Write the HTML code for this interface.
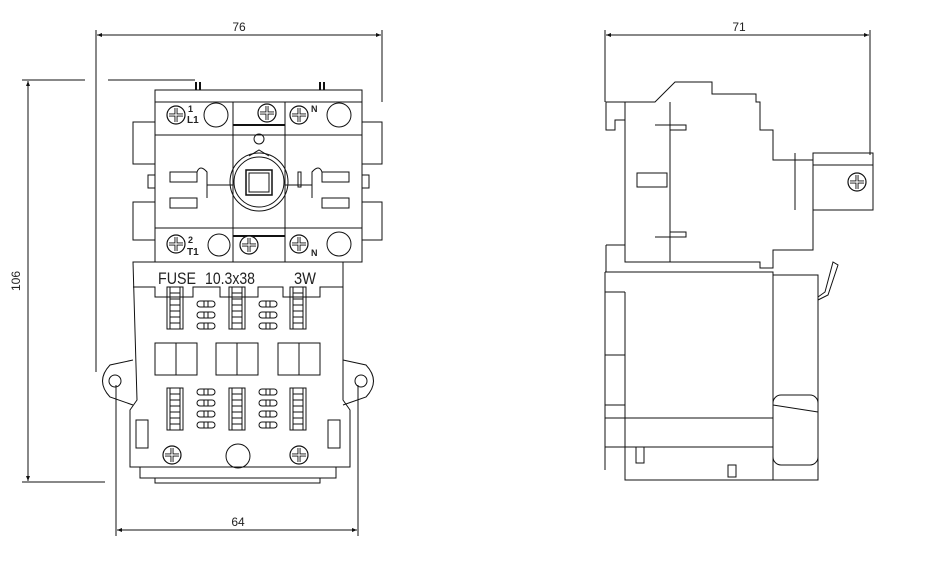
<!DOCTYPE html>
<html><head><meta charset="utf-8"><style>
html,body{margin:0;padding:0;background:#fff}
svg{display:block}
text{font-family:"Liberation Sans",sans-serif;fill:#222}
</style></head><body>
<svg width="945" height="574" viewBox="0 0 945 574" xmlns="http://www.w3.org/2000/svg">
<defs>
<marker id="a" viewBox="0 0 10 10" refX="10" refY="5" markerWidth="7" markerHeight="5" orient="auto-start-reverse"><path d="M0,1 L10,5 L0,9z" fill="#111"/></marker>
<g id="scr"><circle r="9" fill="#fff" stroke="#111" stroke-width="1.2"/><path d="M-7,0H7M0,-7V7" stroke="#111" stroke-width="3"/><path d="M-7,0H7M0,-7V7" stroke="#fff" stroke-width="1.2"/></g>
<g id="slot"><rect x="-9" y="-3" width="18" height="6" rx="3" fill="#fff" stroke="#111"/><path d="M-2,-3V3M2,-3V3" stroke="#111"/></g>
<g id="lad" stroke="#111" fill="none"><rect x="0" y="0" width="16" height="42"/><path d="M3,0V42M13,0V42M3,6H13M3,12H13M3,18H13M3,24H13M3,30H13M3,36H13"/></g>
</defs>
<g stroke="#111" fill="none" stroke-width="1">
<line x1="96" y1="30" x2="96" y2="372"/>
<line x1="382" y1="30" x2="382" y2="102"/>
<line x1="97" y1="35" x2="381" y2="35" marker-start="url(#a)" marker-end="url(#a)"/>
<line x1="22" y1="80" x2="85" y2="80"/>
<line x1="108" y1="80" x2="195" y2="80"/>
<line x1="22" y1="482" x2="105" y2="482"/>
<line x1="28" y1="81" x2="28" y2="481" marker-start="url(#a)" marker-end="url(#a)"/>
<line x1="116" y1="385" x2="116" y2="536"/>
<line x1="358" y1="385" x2="358" y2="536"/>
<line x1="117" y1="530" x2="357" y2="530" marker-start="url(#a)" marker-end="url(#a)"/>
<line x1="605" y1="30" x2="605" y2="102"/>
<line x1="870" y1="30" x2="870" y2="155"/>
<line x1="606" y1="35" x2="869" y2="35" marker-start="url(#a)" marker-end="url(#a)"/>

<rect x="155" y="90" width="207" height="172"/>
<path d="M196,90V82M200,90V82M320,90V82M324,90V82" stroke-width="2"/>
<line x1="155" y1="102" x2="362" y2="102"/>
<line x1="155" y1="135" x2="362" y2="135"/>
<line x1="155" y1="228" x2="362" y2="228"/>
<rect x="233" y="102" width="52" height="160"/>
<line x1="233" y1="125" x2="285" y2="125" stroke-width="2"/>
<line x1="233" y1="236" x2="285" y2="236" stroke-width="2"/>
<circle cx="259" cy="182" r="29"/>
<circle cx="259" cy="182" r="25"/>
<rect x="246" y="170" width="26" height="25" stroke-width="1.5"/>
<rect x="249" y="173" width="20" height="19"/>
<circle cx="259" cy="139" r="5"/>
<path d="M249,156L259,150L269,156"/>
<rect x="298" y="172" width="3" height="15"/>
<path d="M197,172h-27v10h27zM197,198h-27v10h27zM322,172h27v10h-27zM322,198h27v10h-27z"/>
<path d="M197,172q3,-8 10,0v26M322,172q-3,-8 -10,0v26M207,185h26M285,185h27" />
<rect x="133" y="122" width="22" height="42"/>
<rect x="133" y="202" width="22" height="38"/>
<rect x="362" y="122" width="20" height="42"/>
<rect x="362" y="202" width="20" height="38"/>
<rect x="148" y="175" width="7" height="13"/>
<rect x="362" y="175" width="7" height="13"/>
<circle cx="216" cy="115" r="12"/>
<circle cx="339" cy="115" r="12"/>
<circle cx="219" cy="245" r="11"/>
<circle cx="339" cy="244" r="12"/>
<path d="M133,262H343V400L350,410V467H130V410L137,400Z"/>
<path d="M133,287H155V297H193V287H220V297H258V287H283V297H320V287H343"/>
<rect x="155" y="343" width="42" height="32"/><line x1="176" y1="343" x2="176" y2="375"/>
<rect x="216" y="343" width="42" height="32"/><line x1="237" y1="343" x2="237" y2="375"/>
<rect x="278" y="343" width="42" height="32"/><line x1="299" y1="343" x2="299" y2="375"/>
<path d="M133,360L110,365Q95,381 110,397L133,405"/>
<circle cx="115" cy="381" r="6"/>
<path d="M343,360L366,365Q381,381 366,397L343,405"/>
<circle cx="361" cy="381" r="6"/>
<path d="M140,467V478H336V467M155,478V483H320V478"/>
<rect x="136" y="420" width="12" height="28"/>
<rect x="328" y="420" width="12" height="28"/>
<circle cx="238" cy="456" r="12"/>

<path d="M625,102H655L675,82H712V94H756V102H760V130H773V160H813V250H773V268H760V262H625Z"/>
<path d="M606,102H625V120H615V130H606Z"/>
<line x1="670" y1="102" x2="670" y2="262"/>
<path d="M655,125H686V130H670M655,237H686V232H670"/>
<rect x="637" y="173" width="30" height="14"/>
<rect x="813" y="153" width="60" height="57"/>
<line x1="813" y1="165" x2="873" y2="165"/>
<line x1="795" y1="153" x2="795" y2="210"/>
<line x1="606" y1="245" x2="625" y2="245"/>
<path d="M606,245V272"/>
<path d="M605,272H773V480H773M605,272V418M605,447V470"/>
<path d="M625,292V480H773"/>
<line x1="605" y1="292" x2="625" y2="292"/>
<path d="M773,275H818V480H773"/>
<path d="M818,300L828,295L838,265L833,262L825,292L818,297"/>
<rect x="605" y="418" width="168" height="29"/>
<rect x="773" y="395" width="45" height="70" rx="8"/>
<line x1="773" y1="405" x2="818" y2="412"/>
<rect x="636" y="447" width="8" height="16"/>
<rect x="728" y="465" width="8" height="12"/>
<rect x="605" y="355" width="20" height="50"/>
</g>
<use href="#lad" x="167" y="287"/><use href="#lad" x="229" y="287"/><use href="#lad" x="290" y="287"/>
<use href="#lad" x="167" y="388"/><use href="#lad" x="229" y="388"/><use href="#lad" x="290" y="388"/>
<use href="#scr" x="176" y="115"/>
<use href="#scr" x="299" y="115"/>
<use href="#scr" x="267" y="113"/>
<use href="#scr" x="176" y="244"/>
<use href="#scr" x="299" y="244"/>
<use href="#scr" x="249" y="245"/>
<use href="#scr" x="172" y="455"/>
<use href="#scr" x="299" y="455"/>
<use href="#scr" x="857" y="182"/>
<use href="#slot" x="206" y="304"/><use href="#slot" x="206" y="315"/><use href="#slot" x="206" y="326"/>
<use href="#slot" x="268" y="304"/><use href="#slot" x="268" y="315"/><use href="#slot" x="268" y="326"/>
<use href="#slot" x="206" y="392"/><use href="#slot" x="206" y="403"/><use href="#slot" x="206" y="414"/><use href="#slot" x="206" y="425"/>
<use href="#slot" x="268" y="392"/><use href="#slot" x="268" y="403"/><use href="#slot" x="268" y="414"/><use href="#slot" x="268" y="425"/>
<text x="239" y="31" font-size="12" text-anchor="middle">76</text>
<text x="739" y="31" font-size="12" text-anchor="middle">71</text>
<text x="238" y="526" font-size="12" text-anchor="middle">64</text>
<text x="20" y="281" font-size="12" text-anchor="middle" transform="rotate(-90 20 281)">106</text>
<text x="158" y="284" font-size="17" textLength="38" lengthAdjust="spacingAndGlyphs">FUSE</text>
<text x="205" y="284" font-size="17" textLength="50" lengthAdjust="spacingAndGlyphs">10.3x38</text>
<text x="294" y="284" font-size="17" textLength="22" lengthAdjust="spacingAndGlyphs">3W</text>
<text x="188" y="112" font-size="9" font-weight="bold">1</text>
<text x="187" y="123" font-size="10" font-weight="bold">L1</text>
<text x="311" y="112" font-size="9" font-weight="bold">N</text>
<text x="188" y="243" font-size="9" font-weight="bold">2</text>
<text x="187" y="255" font-size="10" font-weight="bold">T1</text>
<text x="311" y="256" font-size="9" font-weight="bold">N</text>
</svg>
</body></html>
